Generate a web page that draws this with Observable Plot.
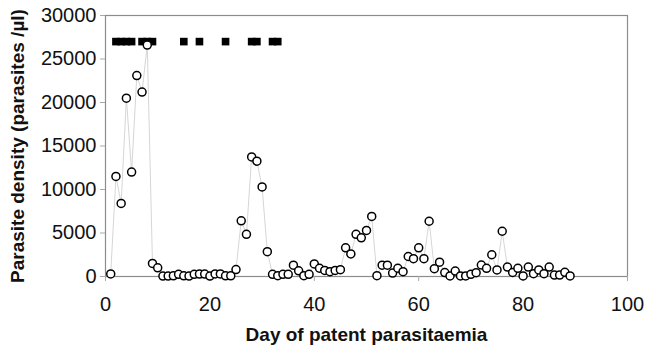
<!DOCTYPE html>
<html>
<head>
<meta charset="utf-8">
<script src="https://cdn.jsdelivr.net/npm/d3@7"></script>
<script src="https://cdn.jsdelivr.net/npm/@observablehq/plot@0.6"></script>
<style>
  html, body { margin: 0; padding: 0; background: #fff; }
  #chart svg { display: block; }
</style>
</head>
<body>
<div id="chart"></div>
<script>
const days = [1,2,3,4,5,6,7,8,9,10,11,12,13,14,15,16,17,18,19,20,21,22,23,24,25,26,27,28,29,30,
  31,32,33,34,35,36,37,38,39,40,41,42,43,44,45,46,47,48,49,50,51,52,53,54,55,56,57,58,59,60,
  61,62,63,64,65,66,67,68,69,70,71,72,73,74,75,76,77,78,79,80,81,82,83,84,85,86,87,88,89];
const density = [300,11500,8400,20500,12000,23100,21200,26600,1500,1000,
  50,50,80,250,80,50,250,280,280,50,
  300,300,80,80,800,6400,4850,13750,13250,10300,
  2850,250,100,250,250,1300,650,100,250,1450,
  950,700,550,700,780,3300,2600,4850,4450,5300,
  6900,100,1300,1300,400,950,550,2300,2050,3300,
  2050,6350,900,1650,450,60,630,60,60,250,
  440,1320,940,2500,750,5200,1090,460,940,60,
  1090,320,750,320,1090,170,170,480,60];
const markerDays = [2,3,4,5,7,8,9,15,18,23,28,29,32,33];
const markerLevel = 27000;
const xTicks = [0,20,40,60,80,100];
const yTicks = [0,5000,10000,15000,20000,25000,30000];

const series = days.map((d, i) => ({day: d, value: density[i]}));
const markers = markerDays.map(d => ({day: d, value: markerLevel}));

const chart = Plot.plot({
  width: 645,
  height: 352,
  marginLeft: 105,
  marginRight: 18,
  marginTop: 15,
  marginBottom: 76,
  style: {fontFamily: "'Liberation Sans', Arial, sans-serif", fontSize: "20px", color: "#111", background: "#fff"},
  x: {domain: [0, 100]},
  y: {domain: [0, 30000]},
  marks: [
    Plot.frame({stroke: "#8c8c8c", strokeWidth: 1.2}),
    Plot.axisX({ticks: xTicks, tickSize: 5, tickPadding: 15, stroke: "#aaa", fontSize: 20,
      label: "Day of patent parasitaemia", labelAnchor: "center", labelOffset: 64, labelArrow: "none"}),
    Plot.axisY({ticks: yTicks, tickFormat: d3.format("d"), tickSize: 5, tickPadding: 4, stroke: "#aaa", fontSize: 20,
      label: "Parasite density (parasites /µl)", labelAnchor: "center", labelOffset: 95, labelArrow: "none"}),
    Plot.line(series, {x: "day", y: "value", stroke: "#d6d6d6", strokeWidth: 1}),
    Plot.dot(markers, {x: "day", y: "value", symbol: "square", r: 4.3, fill: "#000", stroke: "none"}),
    Plot.dot(series, {x: "day", y: "value", r: 4, fill: "#fff", stroke: "#000", strokeWidth: 1.5})
  ]
});
document.getElementById("chart").appendChild(chart);
document.querySelectorAll("#chart svg g[aria-label='x-axis label'] text, #chart svg g[aria-label='y-axis label'] text")
  .forEach(t => { t.style.fontWeight = "bold"; t.style.fontSize = "19px"; });
</script>
</body>
</html>
